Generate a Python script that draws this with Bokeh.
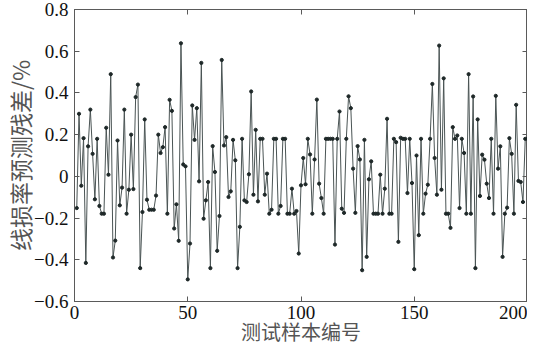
from bokeh.plotting import figure
from bokeh.models import Range1d, LinearAxis, FixedTicker
from bokeh.embed import file_html
from bokeh.resources import INLINE

sample_index = list(range(1, 201))
residuals = [
    -0.152, 0.30, -0.045, 0.183, -0.415, 0.144, 0.32, 0.108, -0.11, 0.18,
    -0.142, -0.179, -0.179, 0.233, 0.008, 0.49, -0.389, -0.308, 0.172, -0.139,
    -0.054, 0.32, -0.179, -0.064, 0.20, -0.061, 0.38, 0.44, -0.44, -0.171,
    0.273, -0.112, -0.16, -0.16, -0.16, -0.092, 0.20, 0.112, 0.14, 0.236,
    -0.179, 0.367, 0.314, -0.25, -0.134, -0.309, 0.638, 0.057, 0.048, -0.494,
    -0.322, 0.34, 0.175, 0.327, -0.024, 0.544, -0.203, -0.115, -0.027, -0.44,
    0.145, 0.021, -0.357, -0.19, 0.558, 0.148, 0.188, -0.099, -0.072, 0.175,
    0.077, -0.44, -0.242, 0.18, -0.115, -0.123, 0.01, 0.407, -0.088, 0.223,
    -0.12, 0.18, 0.18, -0.088, 0.013, -0.179, -0.16, 0.18, 0.18, -0.179,
    -0.142, 0.18, 0.18, -0.179, -0.179, -0.059, -0.179, -0.166, -0.37, -0.043,
    0.088, -0.038, 0.18, 0.105, -0.179, 0.081, 0.368, -0.035, -0.104, -0.179,
    0.18, 0.18, 0.18, 0.18, -0.327, 0.18, 0.311, -0.155, -0.175, 0.18,
    0.384, 0.327, 0.037, -0.175, 0.145, 0.081, -0.45, 0.175, -0.386, -0.014,
    0.072, -0.179, -0.179, -0.179, 0.008, -0.179, -0.059, 0.276, -0.179, -0.179,
    0.18, 0.164, -0.314, 0.185, 0.18, 0.18, -0.08, 0.18, -0.032, -0.445,
    0.10, -0.282, 0.18, -0.179, -0.083, -0.04, 0.18, 0.443, 0.088, -0.088,
    0.627, -0.064, 0.47, -0.179, -0.179, -0.247, 0.236, 0.18, 0.196, -0.152,
    0.18, 0.112, -0.179, 0.49, -0.179, 0.383, -0.44, 0.273, -0.094, 0.104,
    0.08, -0.035, -0.104, 0.18, -0.179, 0.386, 0.037, 0.144, -0.386, -0.179,
    -0.15, 0.183, 0.108, -0.179, 0.343, -0.022, -0.027, -0.123, 0.18, 0.18,
]
x_ticks = [0, 50, 100, 150, 200]
y_ticks = [-0.6, -0.4, -0.2, 0, 0.2, 0.4, 0.6, 0.8]
x_label = "测试样本编号"
y_label = "线损率预测残差/%"

axis_color = "#5a5a5a"
tick_font = "Liberation Serif"
cjk_font = "Noto Sans CJK SC"

p = figure(width=527, height=348, output_backend="svg", toolbar_location=None,
           x_range=Range1d(0, 200), y_range=Range1d(-0.6, 0.8),
           min_border_left=60, min_border_right=0, min_border_top=9,
           min_border_bottom=40)

p.background_fill_color = "white"
p.border_fill_color = "white"
p.outline_line_color = axis_color
p.outline_line_width = 1
p.xgrid.visible = False
p.ygrid.visible = False

p.line(sample_index, residuals, line_color="#4a5454", line_width=1)
p.scatter(sample_index, residuals, size=3.2, marker="circle",
          fill_color="#1e2828", line_color="#1e2828")

for ax in (p.xaxis[0], p.yaxis[0]):
    ax.axis_line_color = axis_color
    ax.major_tick_line_color = axis_color
    ax.major_tick_in = 5
    ax.major_tick_out = 0
    ax.minor_tick_line_color = None
    ax.major_label_text_font = tick_font
    ax.major_label_text_font_size = "19px"
    ax.major_label_text_color = "#111111"
    ax.axis_label_text_font = cjk_font
    ax.axis_label_text_font_style = "normal"
    ax.axis_label_text_color = "#555555"

p.xaxis[0].axis_label_text_font_size = "20px"
p.yaxis[0].axis_label_text_font_size = "23px"
p.xaxis[0].ticker = FixedTicker(ticks=x_ticks)
p.yaxis[0].ticker = FixedTicker(ticks=y_ticks)
p.yaxis[0].major_label_overrides = {0: "0"}
p.xaxis[0].axis_label = x_label
p.yaxis[0].axis_label = y_label
p.xaxis[0].major_label_standoff = 4
p.yaxis[0].major_label_standoff = 6
p.xaxis[0].axis_label_standoff = -5
p.yaxis[0].axis_label_standoff = -6

top = LinearAxis(ticker=FixedTicker(ticks=x_ticks),
                 major_label_overrides={t: "" for t in x_ticks})
right = LinearAxis(ticker=FixedTicker(ticks=y_ticks),
                   major_label_overrides={t: "" for t in y_ticks})
for ax in (top, right):
    ax.axis_line_color = axis_color
    ax.major_tick_line_color = axis_color
    ax.major_tick_in = 5
    ax.major_tick_out = 0
    ax.minor_tick_line_color = None
    ax.major_label_standoff = 0
    ax.major_label_text_font_size = "1px"
p.add_layout(top, "above")
p.add_layout(right, "right")

open("out.html", "w").write(file_html(p, INLINE))
